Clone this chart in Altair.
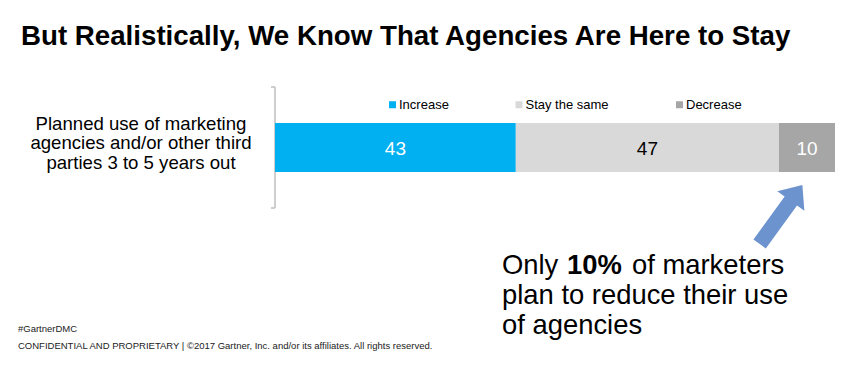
import altair as alt
import pandas as pd

# ---- data ----
categories = ["Planned use of marketing\nagencies and/or other third\nparties 3 to 5 years out"]
responses = ["Increase", "Stay the same", "Decrease"]
values = [43, 47, 10]
colors = ["#00B0F0", "#D9D9D9", "#A6A6A6"]
label_colors = ["#FFFFFF", "#000000", "#FFFFFF"]

title_text = "But Realistically, We Know That Agencies Are Here to Stay"
note_line1 = ["Only ", "10%", " of marketers"]
note_line2 = "plan to reduce their use"
note_line3 = "of agencies"
footer1 = "#GartnerDMC"
footer2 = "CONFIDENTIAL AND PROPRIETARY  |  \u00a92017 Gartner, Inc. and/or its affiliates. All rights reserved."

FONT = "Liberation Sans, Arial, Helvetica, sans-serif"

df = pd.DataFrame({
    "category": categories * len(responses),
    "response": responses,
    "value": values,
    "order": list(range(len(responses))),
    "label_color": label_colors,
})

W, H = 560, 121

yenc = alt.Y("category:N", axis=None,
             scale=alt.Scale(paddingInner=0, paddingOuter=0.74))

base = alt.Chart(df).transform_stack(
    stack="value", groupby=["category"], as_=["v0", "v1"],
    sort=[alt.SortField("order", order="ascending")]
).transform_calculate(mid="(datum.v0 + datum.v1) / 2")

# axis bracket
one = pd.DataFrame({"k": [0]})
bracket = alt.Chart(one).mark_rule(color="#BFBFBF", strokeWidth=1.5).encode(
    x=alt.value(0), y=alt.value(0), y2=alt.value(H))
tick_top = alt.Chart(one).mark_rule(color="#BFBFBF", strokeWidth=1.5).encode(
    x=alt.value(-4), x2=alt.value(0), y=alt.value(0))
tick_bot = alt.Chart(one).mark_rule(color="#BFBFBF", strokeWidth=1.5).encode(
    x=alt.value(-4), x2=alt.value(0), y=alt.value(H))

bars = base.mark_bar(stroke=None).encode(
    x=alt.X("v0:Q", scale=alt.Scale(domain=[0, 100], nice=False), axis=None),
    x2="v1:Q",
    y=yenc,
    color=alt.Color("response:N",
                    scale=alt.Scale(domain=responses, range=colors),
                    legend=alt.Legend(title=None, orient="none", legendX=111, legendY=11,
                                      direction="horizontal", symbolType="square",
                                      symbolSize=49, symbolStrokeWidth=0,
                                      labelFont=FONT, labelFontSize=13, labelColor="#000000",
                                      columnPadding=63.5, labelOffset=0, padding=0)),
)

labels = base.mark_text(font=FONT, fontSize=19, baseline="middle", dy=1).encode(
    x=alt.X("mid:Q"),
    y=yenc,
    text=alt.Text("value:Q"),
    fill=alt.Fill("label_color:N", scale=None),
)

catlabel = alt.Chart(pd.DataFrame({"category": categories})).mark_text(
    font=FONT, fontSize=18.6, lineHeight=19.5, lineBreak="\n",
    align="center", baseline="middle", color="#000000", dy=-24
).encode(x=alt.value(-134), y=yenc, text="category:N")

def txt(s, x, y, size, bold=False, font=FONT, color="#000000"):
    return alt.Chart(pd.DataFrame({"t": [s]})).mark_text(
        font=font, fontSize=size, fontWeight="bold" if bold else "normal",
        align="left", baseline="alphabetic", color=color
    ).encode(x=alt.value(x), y=alt.value(y), text="t:N")

title = txt(title_text, -254, -42, 27.7, bold=True)
n1a = txt(note_line1[0], 227, 187, 27.4)
n1b = txt(note_line1[1], 292, 187, 27.4, bold=True)
n1c = txt(note_line1[2].strip(), 357, 187, 27.4)
n2 = txt(note_line2, 227, 217, 27.4)
n3 = txt(note_line3, 227, 247, 27.4)
f1 = txt(footer1, -257, 245, 9.5, color="#222222")
f2 = txt(footer2, -257, 262, 9.5, color="#222222")

arrow_path = "M0,-1 L0.46,-0.46 L0.21,-0.46 L0.21,1 L-0.21,1 L-0.21,-0.46 L-0.46,-0.46 Z"
arrow = alt.Chart(one).mark_point(shape=arrow_path, filled=True, color="#6C93CE",
                                  opacity=1, size=5290, angle=36, strokeWidth=0).encode(
    x=alt.value(506), y=alt.value(127.5))

chart = alt.layer(bracket, tick_top, tick_bot, bars, labels, catlabel, title,
                  n1a, n1b, n1c, n2, n3, f1, f2, arrow).properties(
    width=W, height=H,
    autosize=alt.AutoSizeParams(type="none"),
    padding={"left": 267, "top": 79, "right": 17, "bottom": 153},
    background="#FFFFFF",
).configure_view(stroke=None)

chart.save("out.html", embed_options={"renderer": "svg", "actions": False})
